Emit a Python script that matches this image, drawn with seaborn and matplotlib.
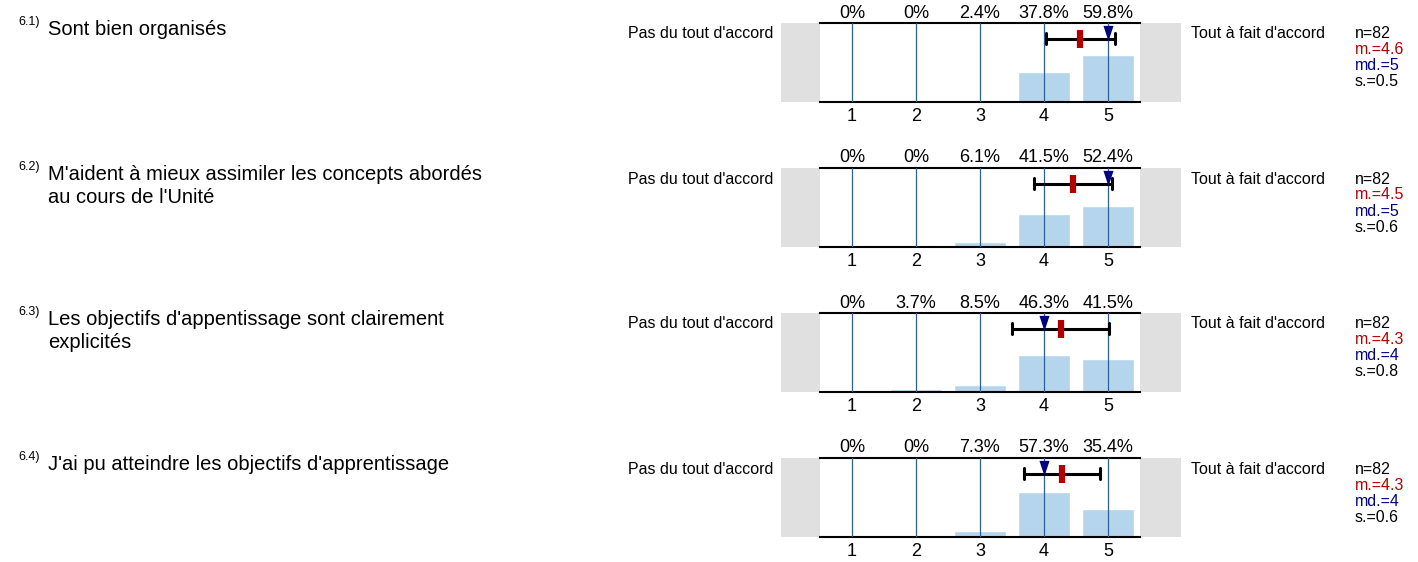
import numpy as np
import pandas as pd
import matplotlib
matplotlib.use("Agg")
import matplotlib.pyplot as plt
import seaborn as sns
from matplotlib.patches import Rectangle

# data
numbers = ["6.1)", "6.2)", "6.3)", "6.4)"]
questions = [
    ["Sont bien organisés"],
    ["M'aident à mieux assimiler les concepts abordés", "au cours de l'Unité"],
    ["Les objectifs d'appentissage sont clairement", "explicités"],
    ["J'ai pu atteindre les objectifs d'apprentissage"],
]
scale = ["1", "2", "3", "4", "5"]
pct_61 = [0, 0, 2.4, 37.8, 59.8]
pct_62 = [0, 0, 6.1, 41.5, 52.4]
pct_63 = [0, 3.7, 8.5, 46.3, 41.5]
pct_64 = [0, 0, 7.3, 57.3, 35.4]
n_resp = [82, 82, 82, 82]
means = [4.57, 4.46, 4.26, 4.28]
medians = [5, 5, 4, 4]
stds = [0.54, 0.61, 0.76, 0.59]
mean_txt = ["4.6", "4.5", "4.3", "4.3"]
std_txt = ["0.5", "0.6", "0.8", "0.6"]
left_lbl = "Pas du tout d'accord"
right_lbl = "Tout à fait d'accord"

sns.set_style("white")
plt.rcParams["font.family"] = ["Liberation Sans", "DejaVu Sans"]
plt.rcParams["text.color"] = "black"
plt.rcParams["xtick.color"] = "black"

W, H = 1418, 562
fig = plt.figure(figsize=(W / 100, H / 100), dpi=100)

bar_col = "#b4d5ec"
line_col = "#2f5f9a"
red = "#b00000"
navy = "#000080"
tri = [(-0.33, 0.5), (0.33, 0.5), (0, -0.5), (-0.33, 0.5)]

all_pct = [pct_61, pct_62, pct_63, pct_64]
for k in range(4):
    top = 23 + 145 * k
    ax = fig.add_axes([820 / W, 1 - (top + 79) / H, 320 / W, 79 / H])
    df = pd.DataFrame({"val": scale, "pct": all_pct[k]})
    sns.barplot(data=df, x="val", y="pct", order=scale, color=bar_col,
                saturation=1, width=0.8, ax=ax)
    ax.set_xlim(-0.5, 4.5)
    ax.set_ylim(0, 100)
    for i in range(5):
        ax.axvline(i, color=line_col, lw=0.9, zorder=3)
        ax.text(i, 1.0 + 10 / 79, f"{all_pct[k][i]:g}%", transform=ax.get_xaxis_transform(),
                ha="center", va="center", fontsize=13)
    # mean +- sd bar
    ey = 80
    lo, hi = means[k] - stds[k] - 1, means[k] + stds[k] - 1
    ax.plot([lo, hi], [ey, ey], color="black", lw=2.2, zorder=4)
    ax.plot([lo, lo], [ey - 7, ey + 7], color="black", lw=2.2, zorder=4)
    ax.plot([hi, hi], [ey - 7, ey + 7], color="black", lw=2.2, zorder=4)
    ax.plot([means[k] - 1, means[k] - 1], [ey - 11.5, ey + 11.5], color=red, lw=4.5,
            solid_capstyle="butt", zorder=5)
    ax.plot(medians[k] - 1, ey + 7.5, marker=tri, color=navy, markersize=11,
            markeredgewidth=0, zorder=6)

    ax.set_xticks(range(5))
    ax.set_xticklabels(scale, fontsize=13)
    ax.tick_params(axis="x", length=0, pad=4)
    ax.set_yticks([])
    ax.set_xlabel("")
    ax.set_ylabel("")
    for s in ["left", "right"]:
        ax.spines[s].set_visible(False)
    for s in ["top", "bottom"]:
        ax.spines[s].set_color("black")
        ax.spines[s].set_linewidth(1.5)

    ax.add_patch(Rectangle((-39 / 320, 0), 39 / 320, 1, transform=ax.transAxes,
                           color="#e0e0e0", clip_on=False, lw=0))
    ax.add_patch(Rectangle((1, 0), 41 / 320, 1, transform=ax.transAxes,
                           color="#e0e0e0", clip_on=False, lw=0))

    fig.text(773 / W, 1 - (top + 11) / H, left_lbl, ha="right", va="center", fontsize=11.5)
    fig.text(1191 / W, 1 - (top + 11) / H, right_lbl, ha="left", va="center", fontsize=11.5)
    stats = [(f"n={n_resp[k]}", "black"), (f"m.={mean_txt[k]}", red),
             (f"md.={medians[k]}", navy), (f"s.={std_txt[k]}", "black")]
    for j, (t, c) in enumerate(stats):
        fig.text(1355 / W, 1 - (top + 11 + 16 * j) / H, t, color=c,
                 ha="left", va="center", fontsize=11.5)

    fig.text(18 / W, 1 - (top - 1) / H, numbers[k], ha="left", va="center", fontsize=9)
    for j, line in enumerate(questions[k]):
        fig.text(48 / W, 1 - (top + 12 + 23 * j) / H, line, ha="left", va="baseline",
                 fontsize=14.5)

fig.savefig("out.png", dpi=100)
